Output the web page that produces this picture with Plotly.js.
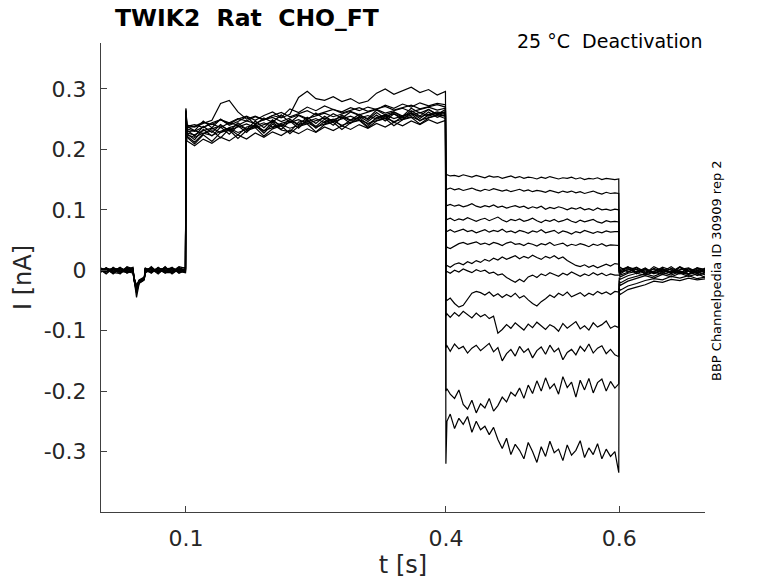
<!DOCTYPE html>
<html>
<head>
<meta charset="utf-8">
<script src="https://cdn.plot.ly/plotly-3.0.1.min.js"></script>
<style>html,body{margin:0;padding:0;background:#fff;}#plot{width:778px;height:583px;}</style>
</head>
<body>
<div id="plot"></div>
<script>
// Time samples (s) for each protocol segment
var tPre = [0.000,0.008,0.016,0.024,0.032,0.039,0.040,0.043,0.046,0.050,0.052,0.053,0.060,0.068,0.076,0.084,0.092,0.0995];
var tStep = [0.1000,0.1012,0.11,0.12,0.13,0.14,0.15,0.16,0.17,0.18,0.19,0.20,0.21,0.22,0.23,0.24,0.25,0.26,0.27,0.28,0.29,0.30,0.31,0.32,0.33,0.34,0.35,0.36,0.37,0.38,0.39,0.3995];
var tDeact = [0.4000,0.4012,0.405,0.41,0.415,0.42,0.425,0.43,0.435,0.44,0.445,0.45,0.455,0.46,0.465,0.47,0.475,0.48,0.485,0.49,0.495,0.50,0.505,0.51,0.515,0.52,0.525,0.53,0.535,0.54,0.545,0.55,0.555,0.56,0.565,0.57,0.575,0.58,0.585,0.59,0.595,0.5995];
var tTail = [0.6000,0.6012,0.61,0.62,0.63,0.64,0.65,0.66,0.67,0.68,0.69,0.70];

// Currents in pA (converted to nA when plotted), one row per sweep
var preCur = [
  [4,-5,2,-6,5,0,-12,-28,-18,-15,-13,-1,5,-4,6,-5,3,-2],
  [-4,3,-6,4,-2,-5,-15,-32,-20,-14,-12,2,-5,4,-2,5,-4,2],
  [5,-2,4,-4,6,2,-13,-45,-22,-17,-15,-4,2,-6,4,-2,6,3],
  [-2,4,-5,2,-4,4,-11,-26,-16,-13,-11,4,-4,5,-5,2,-2,-4],
  [2,-6,5,-2,4,-4,-14,-30,-19,-16,-14,0,4,-2,5,-6,2,5],
  [-5,4,-2,5,-5,0,-12,-27,-17,-14,-12,-5,6,-4,2,4,-5,0],
  [4,0,-4,-5,2,5,-16,-35,-21,-18,-16,2,-2,2,-4,-4,5,-2],
  [0,3,1,-1,-4,-1,-13,-29,-18,-15,-13,2,0,-3,2,3,0,2],
  [-2,-1,3,2,0,-3,-15,-31,-20,-16,-13,-1,-2,4,-1,-3,2,-2],
  [4,1,-3,0,2,1,-12,-25,-17,-14,-12,3,1,0,-4,2,-2,1],
  [-1,-2,0,4,-1,-2,-14,-33,-19,-15,-14,0,3,-2,0,-1,1,-3],
  [1,2,-1,-2,3,2,-13,-28,-18,-13,-12,-2,-3,2,3,0,-1,0],
  [-3,0,2,1,-2,-1,-15,-38,-21,-17,-15,1,2,-1,-2,4,-3,2]
];
var stepCur = [
  [268,238,231,247,236,250,240,246,254,241,252,245,257,244,256,249,260,250,259,252,262,256,251,265,257,262,255,268,260,266,258,266],
  [262,232,222,238,228,241,230,244,233,247,236,249,238,250,241,253,243,255,246,257,248,258,249,261,251,262,253,264,255,266,257,262],
  [258,236,238,245,241,249,244,251,247,254,249,256,252,258,286,296,284,281,287,279,284,276,280,293,300,291,297,303,294,299,290,296],
  [255,226,216,233,222,237,225,239,228,242,230,245,233,247,235,249,238,250,240,253,243,255,246,257,247,259,249,261,251,262,253,258],
  [250,222,212,226,231,219,234,224,237,240,227,242,232,229,245,248,235,246,250,238,249,253,241,252,256,244,255,259,247,257,260,255],
  [263,234,230,237,242,236,244,240,247,243,249,253,246,252,257,251,255,260,254,259,263,257,262,266,260,264,268,262,266,270,265,268],
  [266,240,237,243,248,276,281,262,250,255,249,256,261,254,259,264,257,262,266,260,265,269,263,267,271,265,269,273,267,271,274,270],
  [252,220,209,224,213,228,232,218,231,236,222,234,239,226,238,242,229,241,245,233,244,248,236,247,251,239,249,253,242,252,256,251],
  [259,229,231,226,234,239,232,237,242,236,241,246,240,245,249,243,248,252,246,251,255,249,238,253,257,251,256,260,254,258,262,259],
  [254,224,220,227,223,230,235,228,233,238,231,236,241,235,240,244,237,242,247,240,245,249,243,248,252,246,250,254,248,253,257,255],
  [264,238,241,236,244,249,242,250,255,248,256,262,253,267,261,270,264,272,266,262,269,264,270,266,273,268,275,270,277,272,276,274],
  [248,214,206,217,210,220,214,224,217,227,220,229,223,232,226,234,228,237,231,239,233,241,235,243,237,245,239,247,241,249,243,248],
  [257,227,224,231,235,228,236,240,233,239,244,237,243,247,241,246,251,244,249,254,247,252,256,250,255,259,252,257,261,255,260,262]
];
var deactCur = [
  [157,158,156,157,155,158,156,154,157,155,153,156,154,155,152,154,156,153,155,152,154,153,151,154,152,155,153,151,153,152,154,151,153,150,152,151,153,150,152,151,150,151],
  [135,134,136,133,135,132,134,136,133,131,134,132,135,133,131,133,130,132,134,131,133,130,132,131,129,132,130,128,131,129,131,128,130,127,129,131,128,126,129,127,128,127],
  [108,107,109,106,108,105,107,110,106,104,107,105,108,104,106,103,105,107,104,106,102,105,103,106,101,104,102,105,103,100,103,101,104,100,102,99,103,100,101,99,101,100],
  [85,84,86,82,85,83,87,84,81,84,86,82,85,88,83,80,84,82,85,81,83,86,82,79,83,81,84,80,82,85,81,79,83,80,82,84,80,78,82,80,81,80],
  [66,64,67,63,65,68,64,66,62,65,67,63,66,64,68,63,65,62,66,64,61,65,63,67,62,64,66,61,65,63,60,64,62,66,63,61,64,62,65,63,64,64],
  [42,38,36,40,44,46,43,45,47,43,45,42,46,44,41,45,47,43,44,41,45,43,40,44,42,46,41,43,45,40,43,41,44,42,39,43,41,44,40,42,41,41],
  [6,8,5,10,12,9,14,11,16,13,18,15,20,17,22,18,21,24,19,23,20,25,21,18,23,20,24,19,22,16,12,8,6,9,5,8,4,7,10,7,11,10],
  [-4,-2,-5,0,-3,2,-1,-4,1,-2,0,-5,-3,-8,-6,-12,-16,-20,-15,-19,-11,-8,-12,-6,-9,-4,-7,-10,-5,-8,-3,-7,-10,-6,-9,-4,-8,-5,-9,-6,-8,-8],
  [-48,-50,-46,-55,-61,-58,-47,-38,-35,-37,-41,-36,-43,-39,-45,-40,-44,-38,-46,-42,-49,-55,-59,-52,-47,-41,-45,-38,-42,-36,-44,-40,-37,-43,-38,-41,-35,-39,-36,-40,-35,-36],
  [-75,-72,-78,-70,-76,-68,-74,-79,-71,-77,-73,-80,-76,-104,-98,-90,-96,-87,-93,-99,-89,-95,-86,-92,-98,-90,-94,-101,-88,-96,-91,-85,-97,-92,-99,-87,-94,-90,-84,-96,-92,-95],
  [-128,-125,-134,-122,-130,-126,-137,-129,-124,-133,-127,-121,-135,-128,-150,-138,-131,-142,-126,-136,-130,-145,-133,-127,-139,-124,-135,-129,-148,-136,-131,-140,-126,-134,-122,-137,-129,-125,-138,-131,-140,-143],
  [-200,-196,-205,-212,-198,-222,-230,-215,-236,-221,-228,-212,-233,-224,-210,-218,-202,-208,-195,-212,-190,-204,-183,-200,-178,-196,-188,-205,-176,-194,-185,-210,-182,-198,-179,-203,-186,-180,-200,-184,-195,-188],
  [-320,-250,-238,-262,-245,-255,-242,-268,-250,-264,-258,-272,-260,-280,-295,-278,-305,-288,-298,-312,-285,-300,-318,-292,-308,-283,-302,-296,-315,-289,-306,-298,-282,-310,-294,-305,-287,-312,-296,-308,-300,-335]
];
var tailCur = [
  [3,-1,6,-3,4,-5,2,-6,5,-2,4,1],
  [0,-4,5,1,-6,3,-2,6,-4,2,-3,4],
  [2,5,-3,4,-5,6,-1,-4,5,-6,2,-2],
  [-2,2,4,-6,1,-3,5,0,-5,3,-6,1],
  [-4,-2,0,5,-3,2,-5,3,-1,-6,4,-4],
  [-3,-6,2,-4,3,-6,1,-3,6,-1,-5,3],
  [-6,-8,-3,2,-6,-1,3,-5,1,4,-3,-1],
  [-8,-11,-5,-2,1,-5,-2,2,-4,-7,0,-5],
  [-12,-15,-9,-5,-8,-3,-7,-2,-6,-1,-9,-4],
  [-17,-21,-14,-10,-6,-10,-4,-8,-2,-7,-3,-8],
  [-22,-25,-18,-14,-9,-13,-7,-11,-5,-10,-6,-12],
  [-30,-33,-26,-22,-17,-14,-16,-10,-13,-9,-14,-11],
  [-37,-40,-32,-28,-24,-18,-20,-15,-17,-13,-16,-14]
];

var xTicks = [0.1, 0.4, 0.6];
var xTickText = ['0.1', '0.4', '0.6'];
var yTicks = [-0.3, -0.2, -0.1, 0, 0.1, 0.2, 0.3];
var yTickText = ['-0.3', '-0.2', '-0.1', '0', '0.1', '0.2', '0.3'];

var tAll = tPre.concat(tStep, tDeact, tTail);
var traces = [];
for (var k = 0; k < preCur.length; k++) {
  var pA = preCur[k].concat(stepCur[k], deactCur[k], tailCur[k]);
  traces.push({
    x: tAll,
    y: pA.map(function (v) { return v / 1000; }),
    type: 'scatter',
    mode: 'lines',
    line: { color: '#000000', width: 1.2 },
    hoverinfo: 'skip',
    showlegend: false
  });
}

var F = 'DejaVu Sans, Liberation Sans, sans-serif';
var layout = {
  width: 778,
  height: 583,
  margin: { l: 101, r: 73, t: 43, b: 71, pad: 0 },
  paper_bgcolor: '#ffffff',
  plot_bgcolor: '#ffffff',
  showlegend: false,
  font: { family: F, color: '#262626' },
  xaxis: {
    range: [0.002, 0.699],
    tickmode: 'array', tickvals: xTicks, ticktext: xTickText,
    ticks: 'inside', ticklen: 6, tickcolor: '#404040', tickwidth: 1,
    showline: true, linecolor: '#404040', linewidth: 1,
    showgrid: false, zeroline: false, mirror: false,
    tickfont: { family: F, size: 22, color: '#262626' },
    ticklabelstandoff: 7,
    title: { text: 't [s]', font: { family: F, size: 24, color: '#262626' }, standoff: 5 }
  },
  yaxis: {
    range: [-0.4, 0.376],
    tickmode: 'array', tickvals: yTicks, ticktext: yTickText,
    ticks: 'inside', ticklen: 6, tickcolor: '#404040', tickwidth: 1,
    showline: true, linecolor: '#404040', linewidth: 1,
    showgrid: false, zeroline: false, mirror: false,
    tickfont: { family: F, size: 22, color: '#262626' },
    ticklabelstandoff: 9,
    title: { text: 'I [nA]', font: { family: F, size: 24, color: '#262626' }, standoff: 5 }
  },
  annotations: [
    { text: '<b>TWIK2\u00a0 Rat\u00a0 CHO_FT</b>', xref: 'paper', yref: 'paper',
      x: (113 - 101) / 604, y: (512 - 18) / 469, xanchor: 'left', yanchor: 'middle',
      showarrow: false, font: { family: F, size: 23.5, color: '#000000' } },
    { text: '25 °C\u00a0 Deactivation', xref: 'paper', yref: 'paper',
      x: (704 - 101) / 604, y: (512 - 41) / 469, xanchor: 'right', yanchor: 'middle',
      showarrow: false, font: { family: F, size: 19, color: '#000000' } },
    { text: 'BBP Channelpedia ID 30909 rep 2', xref: 'paper', yref: 'paper',
      x: (716 - 101) / 604, y: (512 - 271) / 469, xanchor: 'center', yanchor: 'middle',
      textangle: -90, showarrow: false, font: { family: F, size: 13, color: '#000000' } }
  ]
};

Plotly.newPlot('plot', traces, layout, { staticPlot: true, displayModeBar: false });
</script>
</body>
</html>
